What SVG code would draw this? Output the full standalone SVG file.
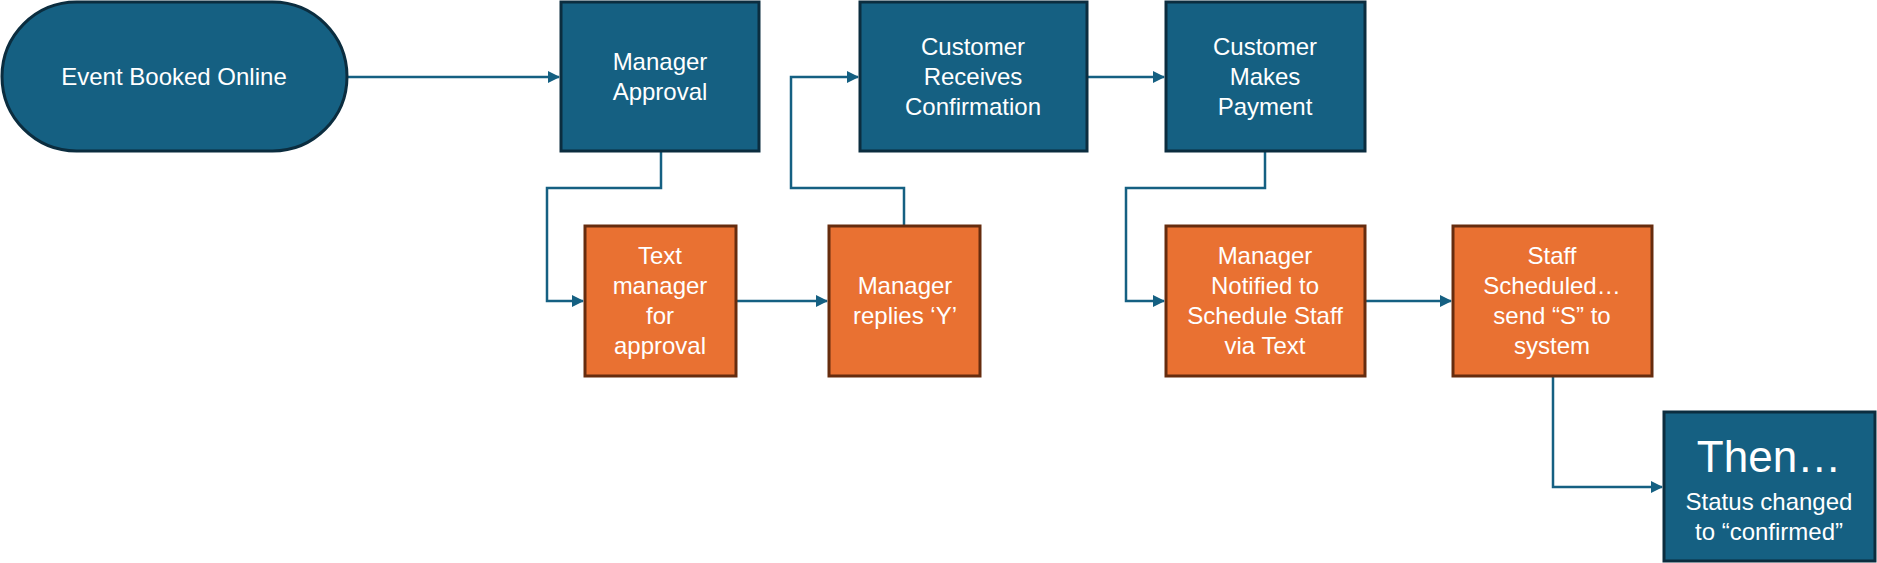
<svg xmlns="http://www.w3.org/2000/svg" width="1877" height="563" viewBox="0 0 1877 563">
<style>
.b{fill:#156082;stroke:#0b2d3f;stroke-width:3}
.o{fill:#e97132;stroke:#662c0e;stroke-width:3}
.t{fill:#ffffff;font-family:"Liberation Sans",Arial,sans-serif;font-size:24px;text-anchor:middle}
.c{fill:none;stroke:#156082;stroke-width:2.5}
</style>
<defs>
<marker id="ah" markerWidth="12" markerHeight="12" refX="11" refY="6" orient="auto" markerUnits="userSpaceOnUse">
<path d="M0,0 L12,6 L0,12 Z" fill="#156082"/>
</marker>
</defs>
<g id="connectors">
<path class="c" d="M347,77 H559" marker-end="url(#ah)"/>
<path class="c" d="M661,152 V188 H547 V301 H583" marker-end="url(#ah)"/>
<path class="c" d="M736,301 H827" marker-end="url(#ah)"/>
<path class="c" d="M904,226 V188 H791 V77 H858" marker-end="url(#ah)"/>
<path class="c" d="M1087,77 H1164" marker-end="url(#ah)"/>
<path class="c" d="M1265,152 V188 H1126 V301 H1164" marker-end="url(#ah)"/>
<path class="c" d="M1365,301 H1451" marker-end="url(#ah)"/>
<path class="c" d="M1553,376 V487 H1662" marker-end="url(#ah)"/>
</g>
<g id="event-booked">
<rect class="b" x="2" y="2" width="345" height="149" rx="74.5"/>
<text class="t" x="174" y="85">Event Booked Online</text>
</g>
<g id="manager-approval">
<rect class="b" x="561" y="2" width="198" height="149"/>
<text class="t" x="660" y="70">Manager</text>
<text class="t" x="660" y="100">Approval</text>
</g>
<g id="customer-receives">
<rect class="b" x="860" y="2" width="227" height="149"/>
<text class="t" x="973" y="55">Customer</text>
<text class="t" x="973" y="85">Receives</text>
<text class="t" x="973" y="115">Confirmation</text>
</g>
<g id="customer-pays">
<rect class="b" x="1166" y="2" width="199" height="149"/>
<text class="t" x="1265" y="55">Customer</text>
<text class="t" x="1265" y="85">Makes</text>
<text class="t" x="1265" y="115">Payment</text>
</g>
<g id="text-manager">
<rect class="o" x="585" y="226" width="151" height="150"/>
<text class="t" x="660" y="264">Text</text>
<text class="t" x="660" y="294">manager</text>
<text class="t" x="660" y="324">for</text>
<text class="t" x="660" y="354">approval</text>
</g>
<g id="manager-replies">
<rect class="o" x="829" y="226" width="151" height="150"/>
<text class="t" x="905" y="294">Manager</text>
<text class="t" x="905" y="324">replies ‘Y’</text>
</g>
<g id="manager-notified">
<rect class="o" x="1166" y="226" width="199" height="150"/>
<text class="t" x="1265" y="264">Manager</text>
<text class="t" x="1265" y="294">Notified to</text>
<text class="t" x="1265" y="324">Schedule Staff</text>
<text class="t" x="1265" y="354">via Text</text>
</g>
<g id="staff-scheduled">
<rect class="o" x="1453" y="226" width="199" height="150"/>
<text class="t" x="1552" y="264">Staff</text>
<text class="t" x="1552" y="294">Scheduled…</text>
<text class="t" x="1552" y="324">send “S” to</text>
<text class="t" x="1552" y="354">system</text>
</g>
<g id="then">
<rect class="b" x="1664" y="412" width="211" height="149"/>
<text class="t" x="1769" y="472" style="font-size:44px">Then…</text>
<text class="t" x="1769" y="510">Status changed</text>
<text class="t" x="1769" y="540">to “confirmed”</text>
</g>
</svg>
